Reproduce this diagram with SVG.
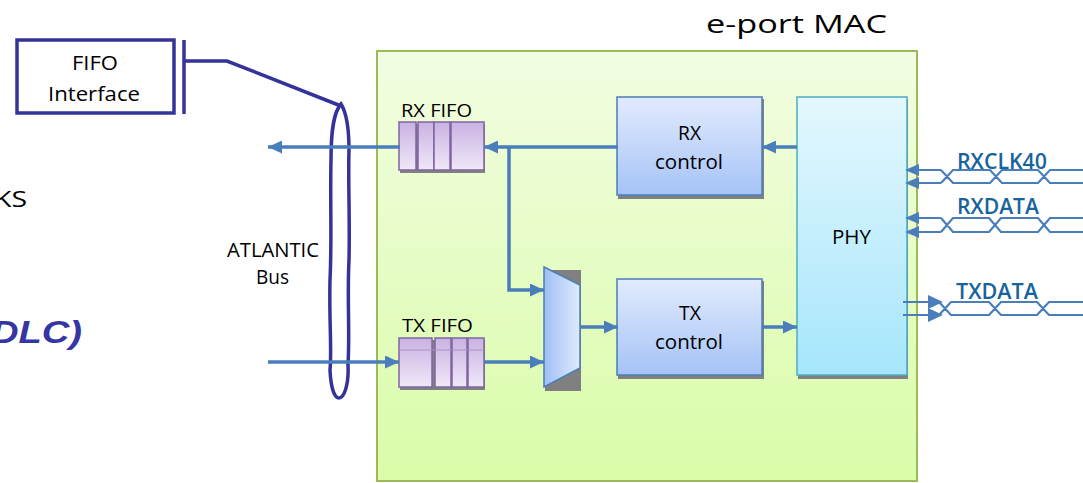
<svg xmlns="http://www.w3.org/2000/svg" width="1083" height="483" viewBox="0 0 1083 483">
<defs>
<linearGradient id="gMain" x1="0" y1="0" x2="0" y2="1"><stop offset="0" stop-color="#f2fde2"/><stop offset="1" stop-color="#dafca8"/></linearGradient>
<linearGradient id="gCtl" x1="0" y1="0" x2="0" y2="1"><stop offset="0" stop-color="#e2ebfe"/><stop offset="1" stop-color="#a5c3f6"/></linearGradient>
<linearGradient id="gPhy" x1="0" y1="0" x2="0" y2="1"><stop offset="0" stop-color="#e4f8fe"/><stop offset="1" stop-color="#a6e6fc"/></linearGradient>
<linearGradient id="gFifo" x1="0" y1="0" x2="0" y2="1"><stop offset="0" stop-color="#c8b2e2"/><stop offset="1" stop-color="#f0e8f8"/></linearGradient>
<linearGradient id="gMux" x1="0" y1="0" x2="1" y2="0"><stop offset="0" stop-color="#9fc0f4"/><stop offset="1" stop-color="#dfeafd"/></linearGradient>
<marker id="arr" markerUnits="userSpaceOnUse" markerWidth="14" markerHeight="13" refX="14" refY="6.5" orient="auto"><path d="M0,0 L14,6.5 L0,13 Z" fill="#4a7ebb"/></marker>
</defs>
<style>
.t{font-family:"Open Sans","Liberation Sans",sans-serif;fill:#000;}
.sig{font-family:"Open Sans","Liberation Sans",sans-serif;fill:#17649c;font-size:21px;font-weight:600;}
.c{fill:none;stroke:#4a7ebb;stroke-width:3.5;}
.w{fill:none;stroke:#4a7ebb;stroke-width:2.2;}
.shadow{fill:#808080;}
.fifo{fill:url(#gFifo);stroke:#8064a2;stroke-width:1.5;}
.navy{fill:none;stroke:#333399;stroke-width:3.5;}
</style>

<text class="t" x="706" y="33" font-size="26" textLength="181" lengthAdjust="spacingAndGlyphs">e-port MAC</text>
<text x="-6" y="207" font-family="'Open Sans','Liberation Sans',sans-serif" font-size="22" textLength="33" lengthAdjust="spacingAndGlyphs">KS</text>
<text x="-9" y="343" font-family="'Liberation Sans',Arial,sans-serif" font-size="32" font-weight="bold" font-style="italic" fill="#3535a3" textLength="91" lengthAdjust="spacingAndGlyphs">DLC)</text>

<g id="fifo-interface">
<rect x="17" y="40" width="157" height="73" fill="#fff" stroke="#333399" stroke-width="3.5"/>
<text class="t" x="72" y="70" font-size="20" textLength="46" lengthAdjust="spacingAndGlyphs">FIFO</text>
<text class="t" x="48" y="101" font-size="20" textLength="92" lengthAdjust="spacingAndGlyphs">Interface</text>
<path class="navy" d="M184,40 L184,114 M184,61 L227,61 L341,106"/>
</g>

<g id="atlantic-bus">
<path class="navy" d="M341,104 C334,112 331,128 331,160 C330,200 332,240 330,280 C329,320 332,350 330,370 C331,390 335,398 339,398 C344,398 349,385 348,365 C350,330 347,300 349,260 C350,220 348,180 349,150 C349,125 346,112 341,104 Z"/>
<text class="t" x="227" y="257" font-size="20" textLength="92" lengthAdjust="spacingAndGlyphs">ATLANTIC</text>
<text class="t" x="256" y="284" font-size="20" textLength="33" lengthAdjust="spacingAndGlyphs">Bus</text>
</g>

<g id="eport-mac">
<rect x="377" y="51" width="540" height="430" fill="url(#gMain)" stroke="#9bbb59" stroke-width="2"/>
</g>

<g id="rx-fifo">
<text class="t" x="401" y="117" font-size="19" textLength="71" lengthAdjust="spacingAndGlyphs">RX FIFO</text>
<rect class="shadow" x="400" y="124" width="85" height="49"/>
<rect class="fifo" x="399" y="122" width="17" height="48"/>
<rect class="fifo" x="418" y="122" width="16" height="48"/>
<rect class="fifo" x="434" y="122" width="16" height="48"/>
<rect class="fifo" x="451" y="122" width="33" height="48"/>
</g>

<g id="tx-fifo">
<text class="t" x="402" y="332" font-size="19" textLength="71" lengthAdjust="spacingAndGlyphs">TX FIFO</text>
<rect class="shadow" x="400" y="340" width="85" height="50"/>
<rect class="fifo" x="399" y="338" width="33" height="49"/>
<rect class="fifo" x="435" y="338" width="16" height="49"/>
<rect class="fifo" x="452" y="338" width="15" height="49"/>
<rect class="fifo" x="468" y="338" width="16" height="49"/>
<path d="M399,350 H484" stroke="#a890c8" stroke-width="1"/>
</g>

<g id="mux">
<rect class="shadow" x="545" y="270" width="36" height="121"/>
<path d="M544,267 L580,285 L580,368 L544,387 Z" fill="url(#gMux)" stroke="#4a7ebb" stroke-width="1.5"/>
</g>

<g id="rx-control">
<rect class="shadow" x="618" y="99" width="146" height="100"/>
<rect x="617" y="97" width="145" height="98" fill="url(#gCtl)" stroke="#4a7ebb" stroke-width="1.5"/>
<text class="t" x="678" y="140" font-size="20" textLength="23" lengthAdjust="spacingAndGlyphs">RX</text>
<text class="t" x="655" y="169" font-size="20" textLength="68" lengthAdjust="spacingAndGlyphs">control</text>
</g>

<g id="tx-control">
<rect class="shadow" x="618" y="281" width="146" height="98"/>
<rect x="617" y="279" width="145" height="96" fill="url(#gCtl)" stroke="#4a7ebb" stroke-width="1.5"/>
<text class="t" x="679" y="320" font-size="20" textLength="22" lengthAdjust="spacingAndGlyphs">TX</text>
<text class="t" x="655" y="349" font-size="20" textLength="68" lengthAdjust="spacingAndGlyphs">control</text>
</g>

<g id="phy">
<rect class="shadow" x="798" y="99" width="110" height="280"/>
<rect x="797" y="97" width="110" height="278" fill="url(#gPhy)" stroke="#4bacc6" stroke-width="1.5"/>
<text class="t" x="832" y="244" font-size="20" textLength="39" lengthAdjust="spacingAndGlyphs">PHY</text>
</g>

<g id="connectors">
<path class="c" d="M400,147 L268,147" marker-end="url(#arr)"/>
<path class="c" d="M268,362 L399,362" marker-end="url(#arr)"/>
<path class="c" d="M618,147 L484,147" marker-end="url(#arr)"/>
<path class="c" d="M509,147 L509,290 L544,290" marker-end="url(#arr)"/>
<path class="c" d="M484,362 L544,362" marker-end="url(#arr)"/>
<path class="c" d="M580,327 L618,327" marker-end="url(#arr)"/>
<path class="c" d="M797,147 L762,147" marker-end="url(#arr)"/>
<path class="c" d="M762,327 L797,327" marker-end="url(#arr)"/>
</g>

<g id="rxclk40">
<text class="sig" x="957" y="169" textLength="90" lengthAdjust="spacingAndGlyphs">RXCLK40</text>
<path class="w" d="M941,170 L918,170 M941,183 L918,183"/>
<path class="w" d="M941,170 L953,183 L990,183 L1002,170 L1038,170 L1050,183 L1083,183 M941,183 L953,170 L990,170 L1002,183 L1038,183 L1050,170 L1083,170"/>
<path d="M905,170 L919,164 L919,176 Z M905,183 L919,177 L919,189 Z" fill="#4a7ebb"/>
</g>

<g id="rxdata">
<text class="sig" x="957" y="214" textLength="82" lengthAdjust="spacingAndGlyphs">RXDATA</text>
<path class="w" d="M941,218 L918,218 M941,232 L918,232"/>
<path class="w" d="M941,218 L953,232 L989,232 L1001,218 L1038,218 L1050,232 L1083,232 M941,232 L953,218 L989,218 L1001,232 L1038,232 L1050,218 L1083,218"/>
<path d="M905,218 L919,212 L919,224 Z M905,232 L919,226 L919,238 Z" fill="#4a7ebb"/>
</g>

<g id="txdata">
<text class="sig" x="956" y="299" textLength="82" lengthAdjust="spacingAndGlyphs">TXDATA</text>
<path class="w" d="M903,302 L930,302 M903,315 L930,315"/>
<path class="w" d="M939,302 L951,315 L989,315 L1001,302 L1037,302 L1049,315 L1083,315 M939,315 L951,302 L989,302 L1001,315 L1037,315 L1049,302 L1083,302"/>
<path d="M943,302 L928,295 L928,309 Z M943,315 L928,308 L928,322 Z" fill="#4a7ebb"/>
</g>
</svg>
